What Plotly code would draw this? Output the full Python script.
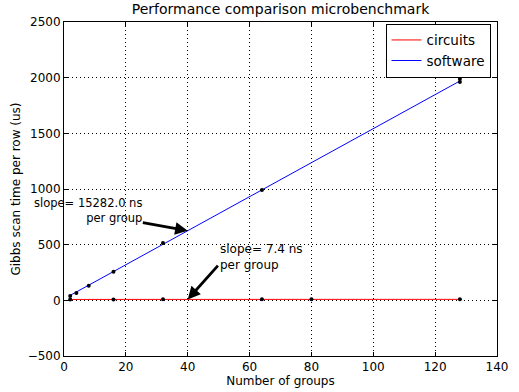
import numpy as np
import plotly.graph_objects as go

# Measured scan times (us) per number of groups
circuits_groups = [2, 16, 32, 64, 80, 128]
circuits_times = [8, 8, 9, 9, 9, 9]
software_groups = [2, 4, 8, 16, 32, 64, 128, 128]
software_times = [40, 66, 130, 256, 516, 992, 1962, 1988]

# Linear fits (slope in us per group)
circuits_slope = 0.0074
circuits_intercept = 8.0
software_slope = 15.282
software_intercept = 14.0
fit_range = [2, 128]

x_ticks = [0, 20, 40, 60, 80, 100, 120, 140]
y_ticks = [-500, 0, 500, 1000, 1500, 2000, 2500]

font = "DejaVu Sans, Liberation Sans, sans-serif"

fig = go.Figure()

fx = np.array(fit_range, dtype=float)
fig.add_trace(go.Scatter(x=fx, y=circuits_slope * fx + circuits_intercept,
                         mode="lines", name="circuits",
                         line=dict(color="red", width=1)))
fig.add_trace(go.Scatter(x=fx, y=software_slope * fx + software_intercept,
                         mode="lines", name="software",
                         line=dict(color="blue", width=1)))
fig.add_trace(go.Scatter(x=circuits_groups, y=circuits_times, mode="markers",
                         marker=dict(color="black", size=4), showlegend=False))
fig.add_trace(go.Scatter(x=software_groups, y=software_times, mode="markers",
                         marker=dict(color="black", size=4), showlegend=False))

# Slope annotations: text and arrows drawn separately
sw_tip = (40, software_slope * 40 + software_intercept)
ci_tip = (40, circuits_slope * 40 + circuits_intercept)

annotations = [
    dict(x=sw_tip[0], y=sw_tip[1], ax=25, ay=700, axref="x", ayref="y",
         xref="x", yref="y", text="", showarrow=True,
         arrowhead=2, arrowsize=0.9, arrowwidth=2.8, arrowcolor="black"),
    dict(x=25.8, y=660, xref="x", yref="y", text="slope= 15282.0 ns<br>per group",
         showarrow=False, xanchor="right", yanchor="bottom", align="right",
         font=dict(family=font, size=11.5, color="black")),
    dict(x=ci_tip[0], y=ci_tip[1], ax=50.2, ay=325, axref="x", ayref="y",
         xref="x", yref="y", text="", showarrow=True,
         arrowhead=2, arrowsize=0.9, arrowwidth=2.8, arrowcolor="black"),
    dict(x=49.8, y=240, xref="x", yref="y", text="slope= 7.4 ns<br>per group",
         showarrow=False, xanchor="left", yanchor="bottom", align="left",
         font=dict(family=font, size=12, color="black")),
]

axis_common = dict(
    showline=True, linecolor="black", linewidth=1, mirror="allticks",
    ticks="inside", ticklen=4, tickcolor="black", automargin=False,
    showgrid=True, gridcolor="black", griddash="1px,3px", gridwidth=1,
    zeroline=False, tickfont=dict(family=font, size=12, color="black"),
)

fig.update_layout(
    width=519, height=392,
    margin=dict(l=64, r=22, t=22, b=36),
    paper_bgcolor="white", plot_bgcolor="white",
    title=dict(text="Performance comparison microbenchmark", x=0.5, xref="paper",
               y=1, yref="container", yanchor="top", pad=dict(t=4),
               font=dict(family=font, size=14, color="black")),
    xaxis=dict(range=[0, 140], tickvals=x_ticks,
               title=dict(text="Number of groups", standoff=2,
                          font=dict(family=font, size=12, color="black")),
               **axis_common),
    yaxis=dict(range=[-500, 2500], tickvals=y_ticks,
               title=dict(text="Gibbs scan time per row (us)", standoff=4,
                          font=dict(family=font, size=12, color="black")),
               **axis_common),
    legend=dict(x=0.985, y=0.995, xanchor="right", yanchor="top",
                bordercolor="black", borderwidth=1, bgcolor="white",
                font=dict(family=font, size=13.5, color="black"),
                itemwidth=30, tracegroupgap=0),
    annotations=annotations,
    showlegend=True,
)

fig.write_html("out.html")
